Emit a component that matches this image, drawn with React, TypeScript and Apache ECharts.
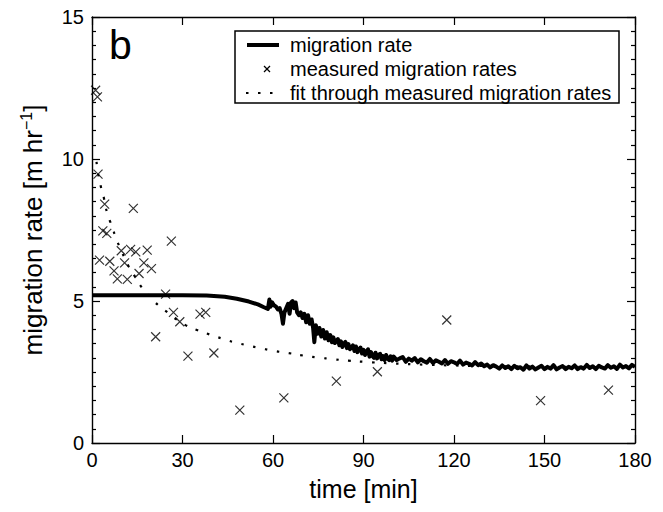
import React, { useEffect, useRef } from "react";
import * as echarts from "echarts";

const FONT = "'Liberation Sans', Arial, Helvetica, sans-serif";

const xTicks = [0, 30, 60, 90, 120, 150, 180];
const yTicks = [0, 5, 10, 15];

// measured migration rates (time [min], rate [m/hr])
const measuredTime = [1.2, 1.8, 2.0, 4.2, 13.7, 3.6, 4.9, 2.5, 5.9, 9.7, 12.8, 14.5, 18.3, 26.3, 10.8, 17.2, 19.7, 15.6, 7.3, 8.4, 11.7, 24.4, 27.0, 29.1, 35.8, 37.7, 21.1, 31.8, 40.4, 49.0, 63.6, 81.0, 94.6, 117.6, 148.7, 171.2];
const measuredRate = [12.42, 12.19, 9.47, 8.41, 8.26, 7.47, 7.38, 6.44, 6.40, 6.77, 6.82, 6.73, 6.79, 7.11, 6.34, 6.34, 6.14, 5.97, 6.06, 5.78, 5.76, 5.24, 4.60, 4.27, 4.54, 4.60, 3.74, 3.06, 3.17, 1.16, 1.59, 2.18, 2.51, 4.33, 1.49, 1.86];

// fit through measured migration rates
const fitTime = [1.5, 2, 3, 4, 5, 6, 7, 8, 10, 12, 14, 16, 18, 20, 22, 25, 28, 31, 35, 39, 43, 47, 51, 55, 60, 65, 70, 75, 80, 85, 90, 100, 110, 120, 130, 140, 150, 160, 170, 180];
const fitRate = [9.9, 9.5, 9.0, 8.6, 8.1, 7.8, 7.5, 7.2, 6.7, 6.25, 5.9, 5.55, 5.3, 5.05, 4.85, 4.6, 4.35, 4.15, 3.97, 3.82, 3.68, 3.55, 3.45, 3.36, 3.25, 3.17, 3.08, 3.01, 2.95, 2.9, 2.86, 2.8, 2.76, 2.73, 2.71, 2.7, 2.69, 2.68, 2.68, 2.67];

// migration rate (modelled)
const rateTime = [
  0, 10, 20, 30, 38, 44, 48, 52, 55, 57, 58.3, 58.8, 59.2, 59.7, 60.3, 61, 61.6, 62.2, 62.8, 63.3,
  63.8, 64.4, 65, 65.5, 66, 66.5, 67, 67.5, 68, 68.6, 69.2, 69.8, 70.4, 71, 71.6, 72.2, 72.8, 73.3,
  73.7, 74.2, 74.8, 75.4, 76, 76.6, 77.2, 77.8, 78.4, 79, 79.5,
  80, 80.5, 81, 81.5, 82, 82.5, 83, 83.5, 84, 84.5, 85, 85.5, 86, 86.5, 87, 87.5, 88, 88.5, 89, 89.5,
  90, 90.5, 91, 91.5, 92, 92.5, 93, 93.5, 94, 94.5, 95, 95.5, 96, 96.5, 97, 97.5, 98, 98.5, 99, 99.5,
  100, 101, 102, 103, 104, 105, 106, 107, 108, 109, 110, 111, 112, 113, 114, 115, 116, 117, 118, 119,
  120, 121, 122, 123, 124, 125, 126, 127, 128, 129, 130, 131, 132, 133, 134, 135, 136, 137, 138, 139,
  140, 141, 142, 143, 144, 145, 146, 147, 148, 149, 150, 151, 152, 153, 154, 155, 156, 157, 158, 159,
  160, 161, 162, 163, 164, 165, 166, 167, 168, 169, 170, 171, 172, 173, 174, 175, 176, 177, 178, 179, 180,
];
const rateValue = [
  5.2, 5.2, 5.2, 5.2, 5.19, 5.15, 5.08, 4.98, 4.88, 4.78, 4.72, 5.05, 4.8, 4.95, 4.85, 4.8, 4.7, 4.75, 4.55, 4.2,
  4.6, 4.75, 4.9, 4.55, 4.95, 5.0, 4.75, 4.95, 4.6, 4.5, 4.6, 4.4, 4.55, 4.25, 4.5, 4.2, 4.35, 4.05,
  3.55, 4.15, 3.85, 4.05, 3.75, 3.98, 3.68, 3.9, 3.62, 3.8, 3.55,
  3.72, 3.52, 3.6, 3.66, 3.44, 3.58, 3.38, 3.5, 3.56, 3.34, 3.48, 3.3, 3.36, 3.44, 3.24, 3.4, 3.2, 3.3, 3.36, 3.15,
  3.28, 3.1, 3.22, 3.3, 3.04, 3.2, 3.06, 3.0, 3.18, 2.98, 3.1, 3.14, 2.95, 3.06, 2.92, 3.1, 2.97, 2.92, 3.05, 2.9,
  3.04, 2.92, 2.98, 3.03, 2.86, 2.97, 2.9, 2.99, 2.84, 2.95, 2.88, 2.83, 2.96, 2.82, 2.91, 2.86, 2.8, 2.92, 2.79, 2.88,
  2.84, 2.78, 2.9, 2.76, 2.83, 2.79, 2.73, 2.85, 2.74, 2.8, 2.7, 2.76, 2.66, 2.74, 2.69, 2.62, 2.73, 2.64, 2.7, 2.6,
  2.72, 2.63, 2.67, 2.58, 2.73, 2.62, 2.69, 2.59, 2.66, 2.72, 2.6, 2.68, 2.62, 2.74, 2.59, 2.66, 2.71, 2.6, 2.68, 2.63,
  2.73, 2.6, 2.67, 2.62, 2.75, 2.64, 2.7, 2.6, 2.72, 2.66, 2.62, 2.74, 2.65, 2.7, 2.61, 2.76, 2.66, 2.71, 2.63, 2.75, 2.68,
];

const legendLabels = ["migration rate", "measured migration rates", "fit through measured migration rates"];
const panelLabel = "b";

const CROSS = "path://M0,0L10,10M10,0L0,10";

export default function App() {
  const ref = useRef<HTMLDivElement>(null);

  useEffect(() => {
    if (!ref.current) return;
    const chart = echarts.init(ref.current, undefined, { renderer: "svg" });

    const axisLine = { show: true, onZero: false, lineStyle: { color: "#000", width: 1.4 } };
    const tick = { show: true, inside: true, length: 8, lineStyle: { color: "#000", width: 1.2 } };
    const label = { color: "#000", fontSize: 20, fontFamily: FONT };

    const legendX = 235;
    const legendY = 31;
    const rowY = [45, 69, 93];

    chart.setOption({
      animation: false,
      backgroundColor: "#fff",
      grid: { left: 92, right: 28, top: 17, bottom: 69, containLabel: false },
      xAxis: [
        {
          type: "value",
          min: xTicks[0],
          max: xTicks[xTicks.length - 1],
          interval: 30,
          position: "bottom",
          axisLine,
          axisTick: tick,
          axisLabel: { ...label, margin: 7 },
          splitLine: { show: false },
          name: "time [min]",
          nameLocation: "middle",
          nameGap: 33,
          nameTextStyle: { color: "#000", fontSize: 25, fontFamily: FONT },
        },
        {
          type: "value",
          min: xTicks[0],
          max: xTicks[xTicks.length - 1],
          interval: 30,
          position: "top",
          axisLine,
          axisTick: tick,
          axisLabel: { show: false },
          splitLine: { show: false },
        },
      ],
      yAxis: [
        {
          type: "value",
          min: yTicks[0],
          max: yTicks[yTicks.length - 1],
          interval: 5,
          position: "left",
          axisLine,
          axisTick: tick,
          minorTick: { show: true, splitNumber: 10, length: 4, lineStyle: { color: "#000", width: 1.2 } },
          axisLabel: { ...label, margin: 8 },
          splitLine: { show: false },
          minorSplitLine: { show: false },
          name: "{a|migration rate [m hr}{s|−1}{a|]}",
          nameLocation: "middle",
          nameGap: 44,
          nameTextStyle: {
            color: "#000",
            fontFamily: FONT,
            rich: {
              a: { fontSize: 26, fontFamily: FONT, color: "#000" },
              s: { fontSize: 16, fontFamily: FONT, color: "#000", padding: [0, 0, 14, 0] },
            },
          },
        },
        {
          type: "value",
          min: yTicks[0],
          max: yTicks[yTicks.length - 1],
          interval: 5,
          position: "right",
          axisLine,
          axisTick: tick,
          minorTick: { show: true, splitNumber: 10, length: 4, lineStyle: { color: "#000", width: 1.2 } },
          axisLabel: { show: false },
          splitLine: { show: false },
        },
      ],
      series: [
        {
          name: legendLabels[2],
          type: "line",
          data: fitTime.map((t, i) => [t, fitRate[i]]),
          showSymbol: false,
          symbol: "none",
          smooth: true,
          lineStyle: { color: "#000", width: 2.2, type: [2.5, 9.5] },
          z: 2,
        },
        {
          name: legendLabels[1],
          type: "scatter",
          data: measuredTime.map((t, i) => [t, measuredRate[i]]),
          symbol: CROSS,
          symbolSize: 9,
          itemStyle: { color: "rgba(0,0,0,0)", borderColor: "#000", borderWidth: 1.2 },
          z: 3,
        },
        {
          name: legendLabels[0],
          type: "line",
          data: rateTime.map((t, i) => [t, rateValue[i]]),
          showSymbol: false,
          symbol: "none",
          lineStyle: { color: "#000", width: 4, join: "round" },
          z: 4,
        },
      ],
      graphic: [
        {
          type: "text",
          left: 109,
          top: 24,
          style: { text: panelLabel, fontSize: 41, fontFamily: FONT, fill: "#000" },
          z: 10,
        },
        {
          type: "group",
          z: 10,
          children: [
            {
              type: "rect",
              shape: { x: legendX, y: legendY, width: 384, height: 72 },
              style: { fill: "#fff", stroke: "#000", lineWidth: 1.5 },
            },
            {
              type: "line",
              shape: { x1: 247, y1: rowY[0], x2: 279, y2: rowY[0] },
              style: { stroke: "#000", lineWidth: 4 },
            },
            {
              type: "line",
              shape: { x1: 264, y1: rowY[1] - 3, x2: 270, y2: rowY[1] + 3 },
              style: { stroke: "#000", lineWidth: 1.2 },
            },
            {
              type: "line",
              shape: { x1: 270, y1: rowY[1] - 3, x2: 264, y2: rowY[1] + 3 },
              style: { stroke: "#000", lineWidth: 1.2 },
            },
            {
              type: "line",
              shape: { x1: 246, y1: rowY[2], x2: 280, y2: rowY[2] },
              style: { stroke: "#000", lineWidth: 2.2, lineDash: [2.5, 9.5] },
            },
            ...legendLabels.map((txt, i) => ({
              type: "text",
              x: 290,
              y: rowY[i],
              style: {
                text: txt,
                fontSize: 20,
                fontFamily: FONT,
                fill: "#000",
                verticalAlign: "middle",
                align: "left",
              },
            })),
          ],
        },
      ],
    });

    return () => chart.dispose();
  }, []);

  return (
    <div
      ref={ref}
      style={{ position: "absolute", left: 0, top: 0, width: 663, height: 512 }}
    />
  );
}
